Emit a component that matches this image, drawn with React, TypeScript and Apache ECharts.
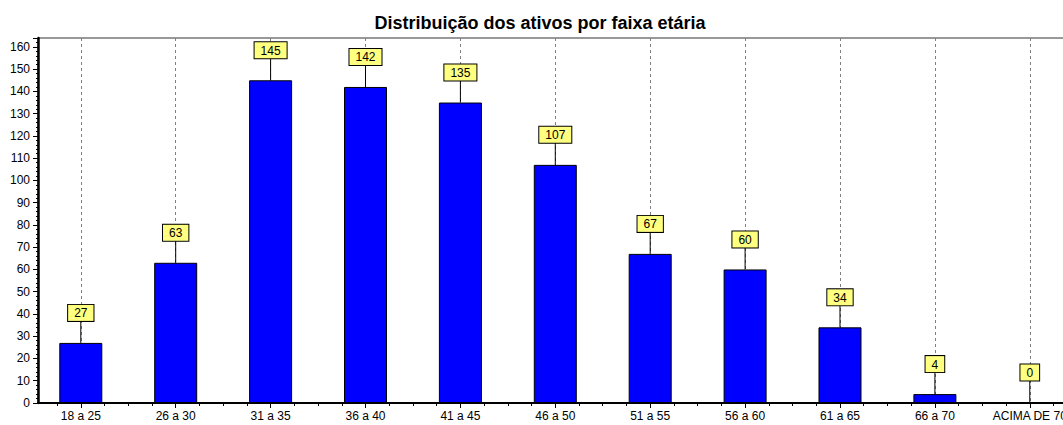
import React, { useEffect, useRef } from "react";
import * as echarts from "echarts";

const categories = [
  "18 a 25",
  "26 a 30",
  "31 a 35",
  "36 a 40",
  "41 a 45",
  "46 a 50",
  "51 a 55",
  "56 a 60",
  "61 a 65",
  "66 a 70",
  "ACIMA DE 70",
];
const values = [27, 63, 145, 142, 135, 107, 67, 60, 34, 4, 0];
const yTickInterval = 10;
const yMax = 164;
const titleText = "Distribuição dos ativos por faixa etária";

const X_MIN = -0.451;
const X_MAX = 10.371;
const FONT = "'Liberation Sans', Arial, sans-serif";

export default function App() {
  const ref = useRef<HTMLDivElement>(null);

  useEffect(() => {
    if (!ref.current) return;
    const chart = echarts.init(ref.current, null, { renderer: "svg" });
    const idx = categories.map((_, i) => i);
    const quarters: number[] = [];
    idx.forEach((i) => {
      quarters.push(i - 0.25, i + 0.25, i + 0.5, i + 0.75);
    });
    const barData = values.map((v, i) => [i, v]);
    const gridBox = { left: 38, right: -2, top: 38, bottom: 22 };

    chart.setOption({
      animation: false,
      textStyle: { fontFamily: FONT },
      title: {
        text: titleText,
        left: 535,
        textAlign: "center",
        top: 9,
        textStyle: { fontSize: 18, fontWeight: "bold", color: "#000", fontFamily: FONT },
      },
      grid: [
        {
          ...gridBox,
          show: true,
          borderColor: "#333",
          borderWidth: 1,
          backgroundColor: "transparent",
          containLabel: false,
          outerBoundsMode: "none",
        },
        { ...gridBox, show: false, containLabel: false, outerBoundsMode: "none" },
      ],
      xAxis: [
        {
          type: "value",
          gridIndex: 0,
          min: X_MIN,
          max: X_MAX,
          axisLine: { show: true, onZero: false, lineStyle: { color: "#000", width: 2 } },
          axisTick: { show: true, customValues: idx, length: 5, lineStyle: { color: "#000" } },
          axisLabel: {
            customValues: idx,
            formatter: (v: number) => categories[Math.round(v)] ?? "",
            color: "#000",
            fontSize: 12,
            margin: 7,
            fontFamily: FONT,
          },
          splitLine: {
            show: true,
            lineStyle: { color: "#808080", type: [3, 3], width: 1 },
          },
        },
        {
          type: "value",
          gridIndex: 1,
          min: X_MIN,
          max: X_MAX,
          position: "bottom",
          axisLine: { show: false, onZero: false },
          axisTick: { show: true, customValues: quarters, length: 3, lineStyle: { color: "#000" } },
          axisLabel: { show: false },
          splitLine: { show: false },
        },
      ],
      yAxis: [
        {
          type: "value",
          gridIndex: 0,
          min: 0,
          max: yMax,
          interval: yTickInterval,
          position: "left",
          axisLine: { show: true, onZero: false, lineStyle: { color: "#000", width: 2.5 } },
          axisTick: { show: true, length: 5, lineStyle: { color: "#000" } },
          minorTick: { show: true, splitNumber: 5, length: 2, lineStyle: { color: "#000" } },
          axisLabel: {
            color: "#000",
            fontSize: 12,
            margin: 8,
            showMaxLabel: false,
            fontFamily: FONT,
          },
          splitLine: { show: false },
        },
        {
          type: "value",
          gridIndex: 1,
          min: 0,
          max: yMax,
          show: false,
          axisLine: { onZero: false },
        },
      ],
      series: [
        {
          type: "custom",
          xAxisIndex: 0,
          yAxisIndex: 0,
          z: 1,
          data: barData,
          renderItem: (params: any, api: any) => {
            const p = api.coord([api.value(0), api.value(1)]);
            return {
              type: "line",
              shape: { x1: p[0], y1: p[1], x2: p[0], y2: p[1] - 22 },
              style: { stroke: "#000", lineWidth: 1 },
            };
          },
        },
        {
          type: "bar",
          xAxisIndex: 0,
          yAxisIndex: 0,
          z: 2,
          data: barData,
          barWidth: 43,
          itemStyle: { color: "#0000ff", borderColor: "#000", borderWidth: 1 },
          label: {
            show: true,
            position: "top",
            distance: 22,
            formatter: (p: any) => String(p.value[1]),
            color: "#000",
            fontSize: 12,
            fontFamily: FONT,
            backgroundColor: "#ffff80",
            borderColor: "#000",
            borderWidth: 1,
            padding: [2, 6, 1, 6],
            lineHeight: 13,
          },
        },
      ],
    });
    return () => chart.dispose();
  }, []);

  return (
    <div
      ref={ref}
      style={{ position: "absolute", left: 0, top: 0, width: 1063, height: 425, background: "#fff" }}
    />
  );
}
